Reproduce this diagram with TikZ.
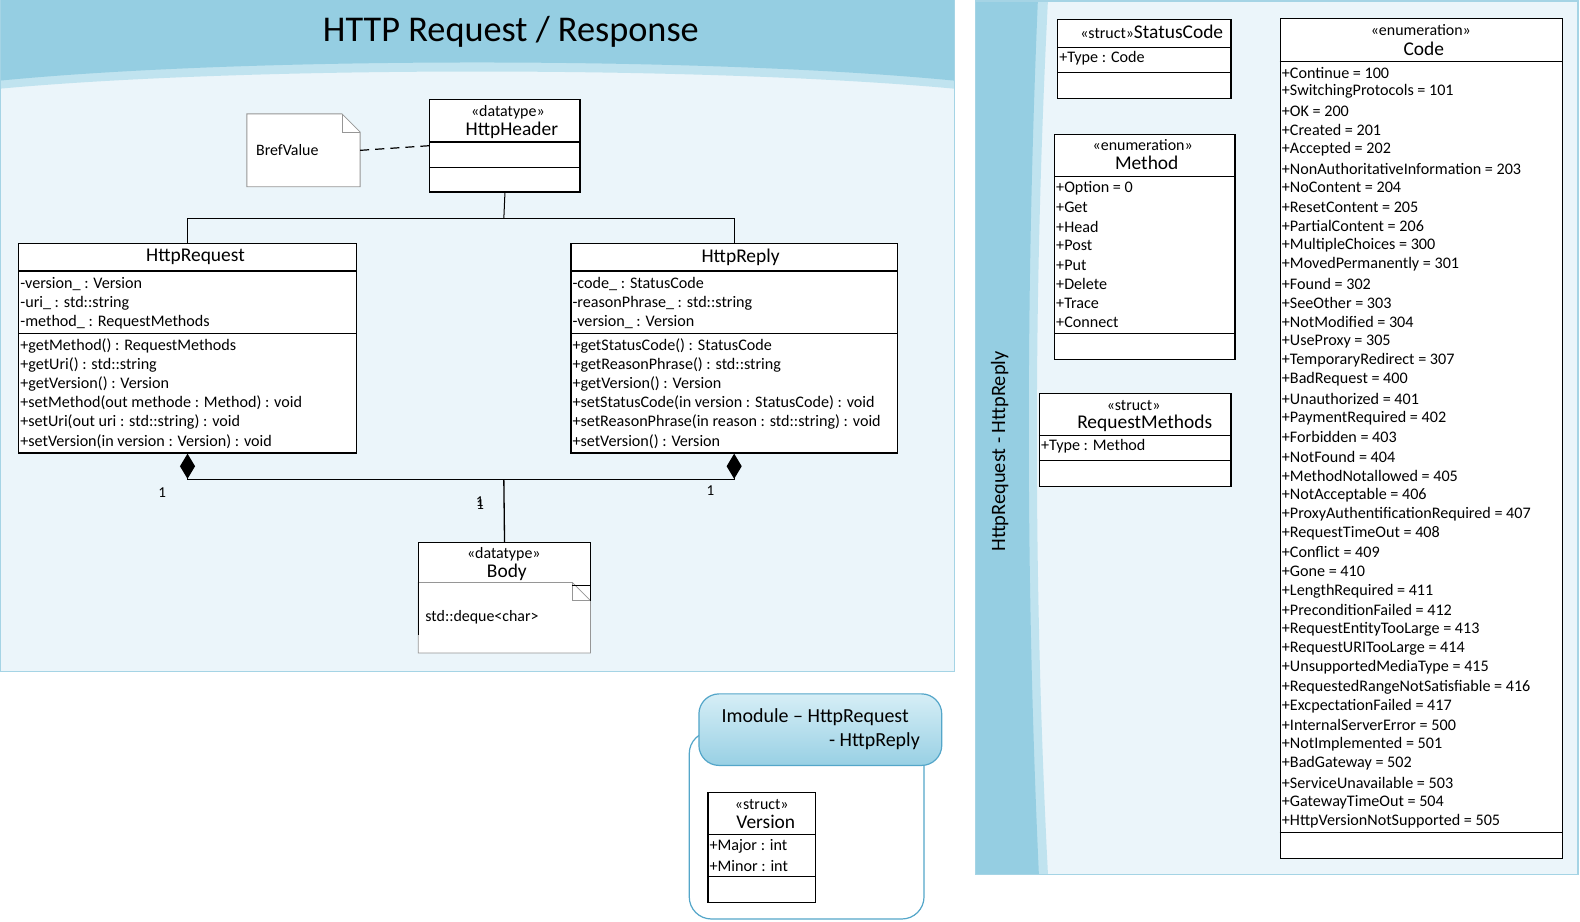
\documentclass[tikz,border=0pt]{standalone}
\usepackage{fontspec}
\setmainfont{Carlito}
\usetikzlibrary{arrows.meta}
\definecolor{bandark}{RGB}{149,206,226}
\definecolor{banlight}{RGB}{192,227,239}
\definecolor{panelbg}{RGB}{235,245,250}
\definecolor{panelbd}{RGB}{165,212,229}
\definecolor{pkgbd}{RGB}{84,166,201}
\definecolor{tabtop}{RGB}{214,238,246}
\definecolor{tabbot}{RGB}{152,208,228}
\definecolor{notebd}{RGB}{150,150,150}
\begin{document}
\begin{tikzpicture}[x=1pt,y=-1pt,
  box/.style={draw=black, fill=white, line width=1.2pt, inner sep=0pt, anchor=north west},
  sep/.style={draw=black, line width=1.2pt},
  txt/.style={anchor=west, inner sep=0pt, font=\fontsize{16}{18}\selectfont},
  stereo/.style={inner sep=0pt, font=\fontsize{15.8}{18}\selectfont},
  cname/.style={inner sep=0pt, font=\fontsize{19.3}{22}\selectfont},
  conn/.style={draw=black, line width=1.3pt},
  mult/.style={inner sep=0pt, font=\fontsize{15}{17}\selectfont},
  notebox/.style={draw=notebd, fill=white, line width=0.8pt},
]
\useasboundingbox (0,0) rectangle (1568,914);

% ---------- left panel ----------
\fill[panelbg] (0,0) rectangle (947,666);
\fill[banlight] (0,0) -- (947,0) -- (947,88) .. controls (700,65.3) and (247,65.3) .. (0,88) -- cycle;
\fill[bandark] (0,0) -- (947,0) -- (947,80) .. controls (700,56) and (247,56) .. (0,80) -- cycle;
\draw[panelbd, line width=1.2pt] (0.6,0) -- (0.6,666) -- (947,666) -- (947,0);
\node[inner sep=0pt, font=\fontsize{36}{42}\selectfont] (title) at (507,32) {HTTP Request / Response};

% ---------- right panel ----------
\fill[panelbg] (968,0) rectangle (1567,868);
\fill[banlight] (968,0) -- (1040,0) .. controls (1025.3,289) and (1025.3,579) .. (1040,868) -- (968,868) -- cycle;
\fill[bandark] (968,0) -- (1030,0) .. controls (1017.8,289) and (1017.8,579) .. (1031,868) -- (968,868) -- cycle;
\draw[panelbd, line width=1.2pt] (968,1) rectangle (1566,868);
\node[inner sep=0pt, rotate=90, font=\fontsize{20.2}{24}\selectfont] (vlabel) at (992,448) {HttpRequest - HttpReply};

% ---------- BrefValue note ----------
\node[inner sep=0pt, minimum width=112pt, minimum height=72pt, anchor=north west] (bref) at (245,113) {};
\draw[notebox] (bref.north west) -- ([xshift=-18pt]bref.north east) -- ([yshift=-18pt]bref.north east) -- (bref.south east) -- (bref.south west) -- cycle;
\draw[notebd, line width=0.8pt] ([xshift=-18pt]bref.north east) -- ([xshift=-18pt,yshift=-18pt]bref.north east) -- ([yshift=-18pt]bref.north east);
\node[txt, font=\fontsize{15.8}{18}\selectfont] (breftxt) at (254,149) {BrefValue};

% ---------- HttpHeader ----------
\node[box, minimum width=149pt, minimum height=92pt] (hhdr) at (426,98) {};
\draw[sep] (426,141) -- (575,141);
\draw[sep] (426,166) -- (575,166);
\node[stereo] (hhdrst) at (504,111) {«datatype»};
\node[cname] (hhdrnm) at (508,129) {HttpHeader};
\draw[dashed, dash pattern=on 9pt off 6pt, line width=1.2pt] (bref.east) -- (hhdr.west);

% ---------- HttpRequest ----------
\node[box, minimum width=335pt, minimum height=208pt] (hreq) at (18,241) {};
\draw[sep] (18,269) -- (353,269);
\draw[sep] (18,331) -- (353,331);
\node[cname] (hreqnm) at (194,255) {HttpRequest};
\node[txt] (hreqa1) at (20,282) {-version\_ : Version};
\node[txt] (hreqa2) at (20,301) {-uri\_ : std::string};
\node[txt] (hreqa3) at (20,320) {-method\_ : RequestMethods};
\node[txt] (hreqm1) at (20,343) {+getMethod() : RequestMethods};
\node[txt] (hreqm2) at (20,362) {+getUri() : std::string};
\node[txt] (hreqm3) at (20,381) {+getVersion() : Version};
\node[txt] (hreqm4) at (20,400) {+setMethod(out methode : Method) : void};
\node[txt] (hreqm5) at (20,419) {+setUri(out uri : std::string) : void};
\node[txt] (hreqm6) at (20,438) {+setVersion(in version : Version) : void};

% ---------- HttpReply ----------
\node[box, minimum width=324pt, minimum height=208pt] (hrep) at (566,241) {};
\draw[sep] (566,269) -- (890,269);
\draw[sep] (566,331) -- (890,331);
\node[cname] (hrepnm) at (735,255) {HttpReply};
\node[txt] (hrepa1) at (568,282) {-code\_ : StatusCode};
\node[txt] (hrepa2) at (568,301) {-reasonPhrase\_ : std::string};
\node[txt] (hrepa3) at (568,320) {-version\_ : Version};
\node[txt] (hrepm1) at (568,343) {+getStatusCode() : StatusCode};
\node[txt] (hrepm2) at (568,362) {+getReasonPhrase() : std::string};
\node[txt] (hrepm3) at (568,381) {+getVersion() : Version};
\node[txt] (hrepm4) at (568,400) {+setStatusCode(in version : StatusCode) : void};
\node[txt] (hrepm5) at (568,419) {+setReasonPhrase(in reason : std::string) : void};
\node[txt] (hrepm6) at (568,438) {+setVersion() : Version};

% ---------- generalization tree ----------
\coordinate (gj) at (500,217);
\draw[conn, line width=1pt] (hhdr.south) -- (gj);
\draw[conn, line width=1pt] (gj) -| (hreq.north);
\draw[conn, line width=1pt] (gj) -| (hrep.north);

% ---------- Body ----------
\node[fill=white, inner sep=0pt, anchor=north west, minimum width=171pt, minimum height=92pt] (body) at (415,538) {};
\draw[black, line width=1.2pt] (415,630) -- (415,538) -- (586,538) -- (586,581);
\node[stereo] (bodyst) at (500,550) {«datatype»};
\node[cname] (bodynm) at (503,568) {Body};
\draw[notebox] (415,578) -- (568,578) -- (586,596) -- (586,648) -- (415,648) -- cycle;
\draw[notebd, line width=0.8pt] (568,578) -- (568,596) -- (586,596);
\draw[black, line width=1.2pt] (415,578) -- (415,630);
\draw[black, line width=1.2pt] (568,581) -- (586,581) -- (586,596);
\node[txt, font=\fontsize{15.8}{18}\selectfont] (bodytxt) at (422,613) {std::deque<char>};

% ---------- compositions ----------
\coordinate (cj) at (500,476);
\draw[conn, {Diamond[length=25pt,width=15pt]}-] (hreq.south) |- (cj);
\draw[conn, {Diamond[length=25pt,width=15pt]}-] (hrep.south) |- (cj);
\draw[conn] (cj) -- (body.north);
\node[mult] (m1) at (161,489) {1};
\node[mult] (m2) at (705,487) {1};
\node[mult] (m3) at (476,498) {1};
\node[mult] (m4) at (476.5,501) {1};

% ---------- Imodule package ----------
\draw[pkgbd, line width=1.2pt, fill=white, rounded corners=22pt] (684,726) rectangle (917,912);
\node[draw=pkgbd, line width=1.2pt, top color=tabtop, bottom color=tabbot, rounded corners=20pt,
      minimum width=241pt, minimum height=71pt, anchor=north west, inner sep=0pt] (imod) at (693,688) {};
\node[inner sep=0pt, anchor=west, font=\fontsize{19.8}{23}\selectfont] (imodt1) at (716,712) {Imodule – HttpRequest};
\node[inner sep=0pt, anchor=east, font=\fontsize{19.8}{23}\selectfont] (imodt2) at (913,736) {- HttpReply};

% ---------- Version ----------
\node[box, minimum width=107pt, minimum height=109pt] (ver) at (702,786) {};
\draw[sep] (702,828) -- (809,828);
\draw[sep] (702,870) -- (809,870);
\node[stereo] (verst) at (756,798) {«struct»};
\node[cname] (vernm) at (760,816) {Version};
\node[txt] (vera1) at (704,840) {+Major : int};
\node[txt] (vera2) at (704,859) {+Minor : int};

% ---------- StatusCode ----------
\node[box, minimum width=172pt, minimum height=78pt] (stc) at (1049,19) {};
\draw[sep] (1049,47) -- (1221,47);
\draw[sep] (1049,72) -- (1221,72);
\node[inner sep=0pt] (stcnm) at (1143,32) {\fontsize{15.8}{18}\selectfont «struct»\fontsize{19.3}{22}\selectfont StatusCode};
\node[txt] (stca1) at (1051,58) {+Type : Code};

% ---------- Method ----------
\node[box, minimum width=179pt, minimum height=223pt] (meth) at (1046,133) {};
\draw[sep] (1046,175) -- (1225,175);
\draw[sep] (1046,331) -- (1225,331);
\node[stereo] (methst) at (1134,144) {«enumeration»};
\node[cname] (methnm) at (1138,162) {Method};
\foreach \t [count=\i from 0] in {+Option = 0,+Get,+Head,+Post,+Put,+Delete,+Trace,+Connect}
  \node[txt] (meth\i) at (1048,{187+19*\i}) {\t};

% ---------- RequestMethods ----------
\node[box, minimum width=190pt, minimum height=92pt] (rqm) at (1031,390) {};
\draw[sep] (1031,432) -- (1221,432);
\draw[sep] (1031,457) -- (1221,457);
\node[stereo] (rqmst) at (1125,402) {«struct»};
\node[cname] (rqmnm) at (1136,420) {RequestMethods};
\node[txt] (rqma1) at (1033,443) {+Type : Method};

% ---------- Code ----------
\node[box, minimum width=280pt, minimum height=833pt] (code) at (1270,18) {};
\draw[sep] (1270,61) -- (1550,61);
\draw[sep] (1270,826) -- (1550,826);
\node[stereo] (codest) at (1410,30) {«enumeration»};
\node[cname] (codenm) at (1413,48) {Code};
\foreach \t [count=\i from 0] in {+Continue = 100,+SwitchingProtocols = 101,+OK = 200,+Created = 201,+Accepted = 202,+NonAuthoritativeInformation = 203,+NoContent = 204,+ResetContent = 205,+PartialContent = 206,+MultipleChoices = 300,+MovedPermanently = 301,+Found = 302,+SeeOther = 303,+NotModified = 304,+UseProxy = 305,+TemporaryRedirect = 307,+BadRequest = 400,+Unauthorized = 401,+PaymentRequired = 402,+Forbidden = 403,+NotFound = 404,+MethodNotallowed = 405,+NotAcceptable = 406,+ProxyAuthentificationRequired = 407,+RequestTimeOut = 408,+Conflict = 409,+Gone = 410,+LengthRequired = 411,+PreconditionFailed = 412,+RequestEntityTooLarge = 413,+RequestURITooLarge = 414,+UnsupportedMediaType = 415,+RequestedRangeNotSatisfiable = 416,+ExcpectationFailed = 417,+InternalServerError = 500,+NotImplemented = 501,+BadGateway = 502,+ServiceUnavailable = 503,+GatewayTimeOut = 504,+HttpVersionNotSupported = 505}
  \node[txt] (code\i) at (1272,{72+19.05*\i}) {\t};
\end{tikzpicture}
\end{document}
